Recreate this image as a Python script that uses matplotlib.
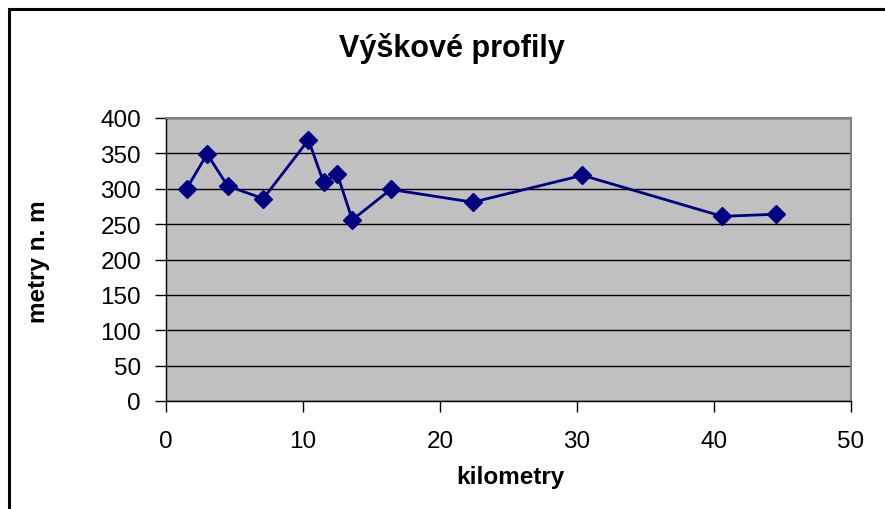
import matplotlib
matplotlib.use("Agg")
import matplotlib.pyplot as plt
from matplotlib.patches import Rectangle

# --- DATA ---
km = [1.5, 3.0, 4.5, 7.1, 10.4, 11.5, 12.5, 13.6, 16.4, 22.4, 30.4, 40.6, 44.5]
vyska = [300, 349, 304, 286, 369, 309, 321, 256, 299, 281, 319, 261, 264]
x_ticks = [0, 10, 20, 30, 40, 50]
y_ticks = [0, 50, 100, 150, 200, 250, 300, 350, 400]

plt.rcParams['font.family'] = ['Liberation Sans', 'DejaVu Sans']

W, H = 885, 510
fig = plt.figure(figsize=(W / 100, H / 100), dpi=100)
ax = fig.add_axes([166 / W, 1 - 402 / H, 685 / W, 283 / H])

# frame of the chart area (only left and top visible in the crop)
fig.patches.append(Rectangle((9 / W, -0.1), 1.2, 1 - 10 / H + 0.1,
                             transform=fig.transFigure, fill=False,
                             edgecolor='black', linewidth=2.2))

ax.set_facecolor('#C0C0C0')
ax.plot(km, vyska, color='#000080', linewidth=2.0, marker='D', markersize=9.5,
        markerfacecolor='#000080', markeredgecolor='#000080', zorder=3)

ax.set_xlim(0, 50); ax.set_ylim(0, 400)
ax.set_xticks(x_ticks); ax.set_yticks(y_ticks)
ax.grid(axis='y', color='black', linewidth=1.0)
ax.set_axisbelow(True)

for s in ['top', 'right']:
    ax.spines[s].set_color('#808080'); ax.spines[s].set_linewidth(1.5)
for s in ['left', 'bottom']:
    ax.spines[s].set_color('black'); ax.spines[s].set_linewidth(1.0)

ax.tick_params(direction='out', length=8, width=1, labelsize=17.5)
ax.tick_params(axis='x', pad=13)
ax.tick_params(axis='y', pad=10)

fig.text(452 / W, 1 - 48 / H, 'Výškové profily', fontsize=22, fontweight='bold',
         ha='center', va='center')
fig.text(510 / W, 1 - 478 / H, 'kilometry', fontsize=17.5, fontweight='bold',
         ha='center', va='center')
fig.text(38 / W, 1 - 262 / H, 'metry n. m', fontsize=17.5, fontweight='bold',
         ha='center', va='center', rotation=90)

fig.savefig('out.png', dpi=100)
